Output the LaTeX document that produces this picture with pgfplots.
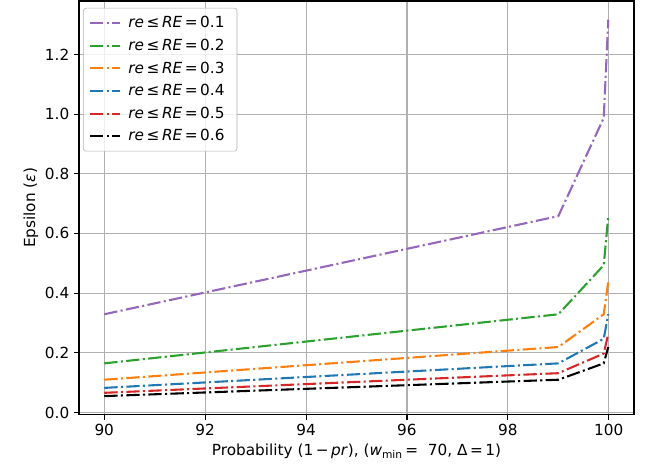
\documentclass[border=0pt]{standalone}
\usepackage{fontspec}
\setmainfont{DejaVu Sans}
\usepackage{pgfplots}
\pgfplotsset{compat=1.18}
\definecolor{tpurple}{HTML}{9467BD}
\definecolor{tgreen}{HTML}{2CA02C}
\definecolor{torange}{HTML}{FF7F0E}
\definecolor{tblue}{HTML}{1F77B4}
\definecolor{tred}{HTML}{D62728}
\definecolor{gridc}{HTML}{B0B0B0}
\begin{document}
\begin{tikzpicture}
\path[use as bounding box] (-56.9pt,-40.8pt) rectangle (410.4pt,298.7pt);
\begin{axis}[
  at={(0pt,0pt)}, anchor=south west,
  scale only axis,
  width=399.6pt, height=298pt,
  xmin=89.5, xmax=100.5,
  ymin=-0.008, ymax=1.379,
  xtick={90,92,94,96,98,100},
  ytick={0,0.2,0.4,0.6,0.8,1.0,1.2},
  yticklabel style={/pgf/number format/.cd,fixed,fixed zerofill,precision=1},
  /pgf/number format/assume math mode=true,
  tick label style={font=\fontsize{11}{13}\selectfont},
  label style={font=\fontsize{11}{13}\selectfont},
  ylabel style={yshift=-2pt},
  xlabel style={yshift=1pt},
  tick align=outside,
  major tick length=3.5pt,
  xtick pos=bottom, ytick pos=left,
  tick style={black, line width=0.8pt},
  axis line style={line width=0.8pt},
  grid=major,
  major grid style={gridc, line width=0.8pt},
  xlabel={Probability (1\,−\,\textit{pr}), (\textit{w}\textsubscript{min}\,= \ 70, Δ\,=\,1)},
  ylabel={Epsilon (\textit{ε})},
  legend cell align=left,
  legend style={font=\fontsize{11}{13}\selectfont, draw=gridc, rounded corners=2pt, fill=white, fill opacity=0.8, text opacity=1, row sep=2.6pt, inner xsep=4pt, inner ysep=4pt, at={(2.9pt,293pt)}, anchor=north west, nodes={inner xsep=5pt}},
  legend image code/.code={\draw[#1] (0pt,0pt) -- (22pt,0pt);},
  every axis plot/.append style={line width=1.5pt, dash pattern=on 9.6pt off 2.4pt on 1.5pt off 2.4pt},
]
\addplot[tpurple] coordinates {(90,0.329) (99,0.658) (99.9,0.987) (99.99,1.316)};
\addlegendentry{\textit{re}\,≤\,\textit{RE}\,=\,0.1}
\addplot[tgreen] coordinates {(90,0.1645) (99,0.329) (99.9,0.4935) (99.99,0.658)};
\addlegendentry{\textit{re}\,≤\,\textit{RE}\,=\,0.2}
\addplot[torange] coordinates {(90,0.1097) (99,0.2193) (99.9,0.329) (99.99,0.4387)};
\addlegendentry{\textit{re}\,≤\,\textit{RE}\,=\,0.3}
\addplot[tblue] coordinates {(90,0.0823) (99,0.1645) (99.9,0.2468) (99.99,0.329)};
\addlegendentry{\textit{re}\,≤\,\textit{RE}\,=\,0.4}
\addplot[tred] coordinates {(90,0.0658) (99,0.1316) (99.9,0.1974) (99.99,0.2632)};
\addlegendentry{\textit{re}\,≤\,\textit{RE}\,=\,0.5}
\addplot[black] coordinates {(90,0.0548) (99,0.1097) (99.9,0.1645) (99.99,0.2193)};
\addlegendentry{\textit{re}\,≤\,\textit{RE}\,=\,0.6}
\end{axis}
\end{tikzpicture}
\end{document}
